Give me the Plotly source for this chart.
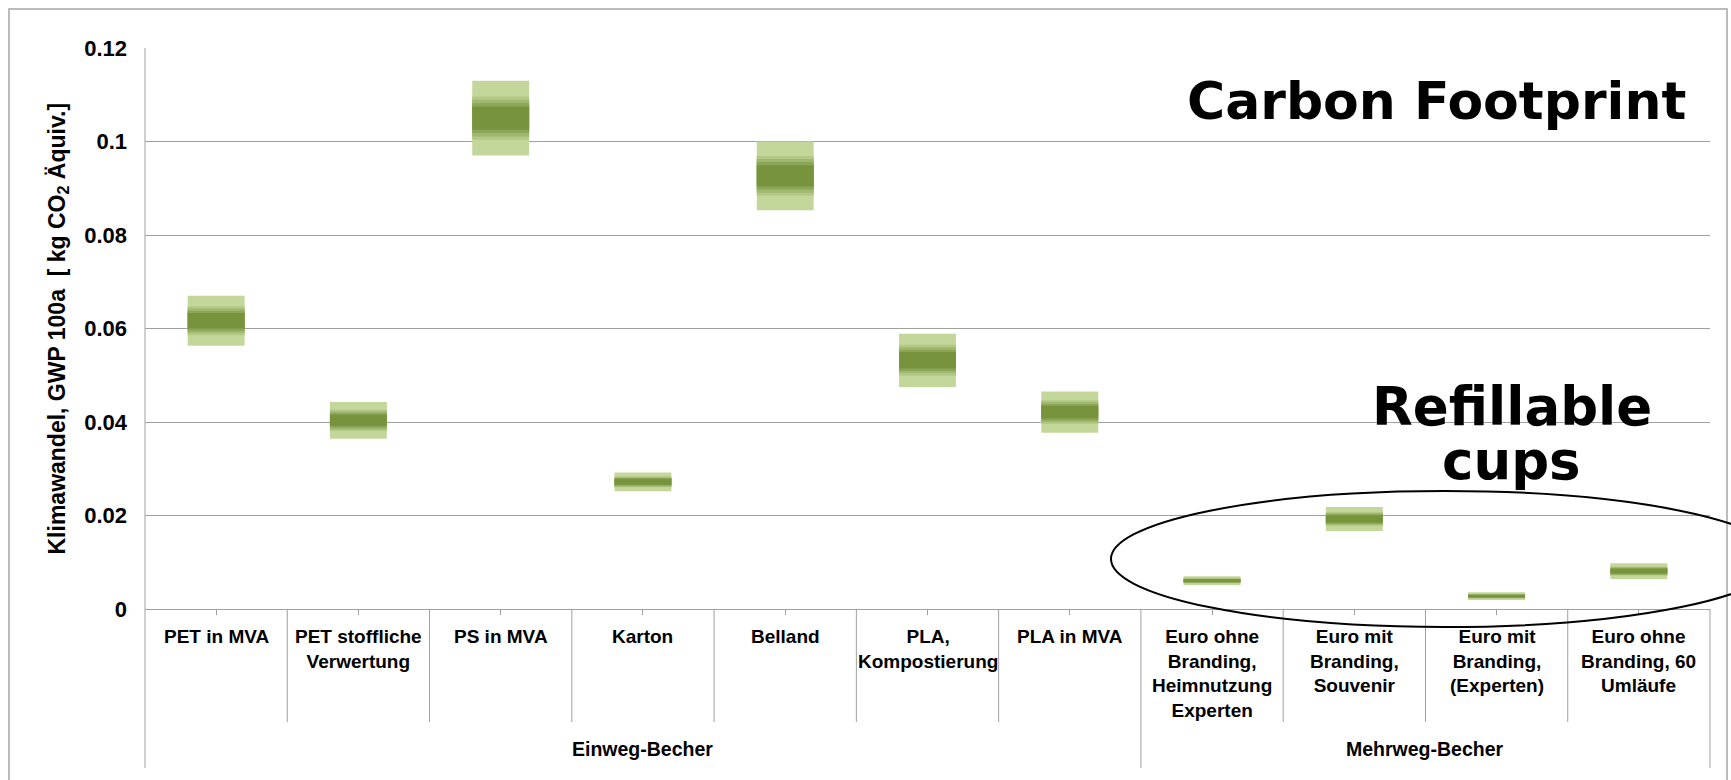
import plotly.graph_objects as go

# ---------------- data ----------------
categories = [
    "PET in MVA",
    "PET stoffliche<br>Verwertung",
    "PS in MVA",
    "Karton",
    "Belland",
    "PLA,<br>Kompostierung",
    "PLA in MVA",
    "Euro ohne<br>Branding,<br>Heimnutzung<br>Experten",
    "Euro mit<br>Branding,<br>Souvenir",
    "Euro mit<br>Branding,<br>(Experten)",
    "Euro ohne<br>Branding, 60<br>Umläufe",
]
groups = ["Einweg-Becher"] * 7 + ["Mehrweg-Becher"] * 4
low = [0.0563, 0.0364, 0.0970, 0.0252, 0.0853, 0.0475, 0.0377, 0.0051, 0.0167, 0.0019, 0.0064]
high = [0.0670, 0.0443, 0.1130, 0.0292, 0.1000, 0.0589, 0.0465, 0.0070, 0.0218, 0.0036, 0.0098]
y_ticks = [0, 0.02, 0.04, 0.06, 0.08, 0.1, 0.12]
y_tick_text = ["0", "0.02", "0.04", "0.06", "0.08", "0.1", "0.12"]
y_title = "Klimawandel, GWP 100a \u00a0[ kg CO<sub>2</sub> Äquiv.]"

# ---------------- style ----------------
W, H = 1731, 780
ML, MR, MT, MB = 145, 21, 48, 171
PW, PH = W - ML - MR, H - MT - MB
GRAY = "#a0a0a0"
FONT = "Liberation Sans"

def py(pix):  # pixel row -> paper y
    return (H - MB - pix) / PH

def px(pix):  # pixel column -> paper x
    return (pix - ML) / PW

n = len(categories)
xs = list(range(n))

fig = go.Figure()

band_fracs = [1.0, 0.58, 0.49, 0.40, 0.31]
band_colors = ["#c4d79b", "#b3c886", "#9fb76e", "#8ba656", "#77933c"]
for f, c in zip(band_fracs, band_colors):
    mids = [(a + b) / 2 for a, b in zip(low, high)]
    hts = [(b - a) * f for a, b in zip(low, high)]
    fig.add_trace(go.Bar(
        x=xs, y=hts, base=[m - h / 2 for m, h in zip(mids, hts)],
        width=0.4, marker=dict(color=c, line=dict(width=0)),
        showlegend=False, hoverinfo="skip",
    ))

fig.update_layout(
    width=W, height=H,
    margin=dict(l=ML, r=MR, t=MT, b=MB, pad=0),
    paper_bgcolor="white", plot_bgcolor="white",
    barmode="overlay", showlegend=False,
    font=dict(family=FONT, color="black"),
)
fig.update_xaxes(
    range=[-0.5, n - 0.5], showgrid=False, zeroline=False, showline=False,
    tickmode="array", tickvals=xs, showticklabels=False,
    ticks="outside", ticklen=5, tickcolor=GRAY, tickwidth=1,
)
fig.update_yaxes(
    range=[0, 0.12], tickmode="array", tickvals=y_ticks, ticktext=y_tick_text,
    showgrid=True, gridcolor=GRAY, gridwidth=1,
    zeroline=True, zerolinecolor=GRAY, zerolinewidth=1, showline=False,
    ticks="", ticklabelstandoff=17,
    tickfont=dict(family=FONT, size=22, color="black", weight="bold"),
)

shapes = []
# outer frame
shapes.append(dict(type="rect", xref="paper", yref="paper",
                   x0=px(9), x1=px(1727), y0=py(800), y1=py(9),
                   line=dict(color="#a6a6a6", width=1.5), layer="below"))
# left axis line from top down to bottom of group labels
shapes.append(dict(type="line", xref="paper", yref="paper",
                   x0=0, x1=0, y0=1, y1=py(768), line=dict(color=GRAY, width=1)))
# category separators
for k in range(1, n + 1):
    last = (k == n) or (groups[k] != groups[k - 1])
    shapes.append(dict(type="line", xref="paper", yref="paper",
                       x0=k / n, x1=k / n, y0=0, y1=py(768 if last else 722),
                       line=dict(color=GRAY, width=1)))
# ellipse around refillable cups
shapes.append(dict(type="circle", xref="paper", yref="paper",
                   x0=px(1111), x1=px(1779), y0=py(627), y1=py(491),
                   line=dict(color="black", width=2)))
fig.update_layout(shapes=shapes)

ann = []
for i, c in enumerate(categories):
    ann.append(dict(x=i, xref="x", y=py(624), yref="paper", text=c, showarrow=False,
                    xanchor="center", yanchor="top", align="center",
                    font=dict(family=FONT, size=19, color="black", weight="bold")))
# group labels
seen = []
for g in groups:
    if g not in seen:
        seen.append(g)
for g in seen:
    idx = [i for i, gg in enumerate(groups) if gg == g]
    ann.append(dict(x=(idx[0] + idx[-1]) / 2, xref="x", y=py(749), yref="paper", text=g,
                    showarrow=False, xanchor="center", yanchor="middle",
                    font=dict(family=FONT, size=19.5, color="black", weight="bold")))
# y title
ann.append(dict(x=px(58), xref="paper", y=0.5, yref="paper", text=y_title, textangle=-90,
                showarrow=False, xanchor="center", yanchor="middle",
                font=dict(family=FONT, size=23, color="black", weight="bold")))
# big labels
ann.append(dict(x=px(1436), xref="paper", y=py(101), yref="paper", text="Carbon Footprint",
                showarrow=False, xanchor="center", yanchor="middle",
                font=dict(family="DejaVu Sans", size=52, color="black", weight="bold")))
ann.append(dict(x=px(1512), xref="paper", y=py(406), yref="paper", text="Refillable",
                showarrow=False, xanchor="center", yanchor="middle",
                font=dict(family="DejaVu Sans", size=53, color="black", weight="bold")))
ann.append(dict(x=px(1511), xref="paper", y=py(460), yref="paper", text="cups",
                showarrow=False, xanchor="center", yanchor="middle",
                font=dict(family="DejaVu Sans", size=53, color="black", weight="bold")))
fig.update_layout(annotations=ann)

fig.write_html("out.html", config={"displayModeBar": False},
               post_script="document.body.style.margin='0';document.body.style.overflow='hidden';")
